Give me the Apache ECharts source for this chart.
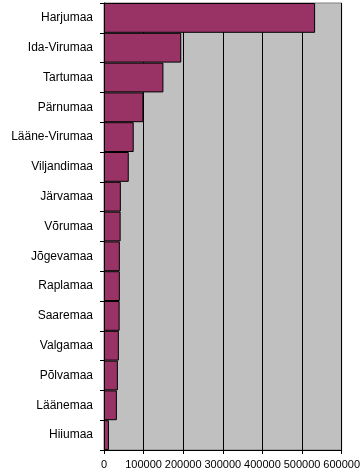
<!DOCTYPE html>
<html><head><meta charset="utf-8">
<script src="https://cdn.jsdelivr.net/npm/echarts@6/dist/echarts.min.js"></script>
<style>html,body{margin:0;padding:0;background:#fff}#c{width:363px;height:476px}</style>
</head><body><div id="c"></div>
<script>
const categories = ["Harjumaa","Ida-Virumaa","Tartumaa","Pärnumaa","Lääne-Virumaa","Viljandimaa","Järvamaa","Võrumaa","Jõgevamaa","Raplamaa","Saaremaa","Valgamaa","Põlvamaa","Läänemaa","Hiiumaa"];
const values = [533000,195000,150000,99500,75000,62500,42500,42000,40000,40000,39500,37500,35000,32500,12500];
const xTicks = [0,100000,200000,300000,400000,500000,600000];

const chart = echarts.init(document.getElementById('c'), null, {renderer:'canvas'});
chart.setOption({
  animation:false,
  textStyle:{fontFamily:'Liberation Sans, Arial, sans-serif'},
  grid:{left:104,right:20,top:3,bottom:26,show:true,backgroundColor:'#C0C0C0',borderColor:'#808080',borderWidth:1},
  xAxis:{type:'value',min:xTicks[0],max:xTicks[xTicks.length-1],interval:100000,
    axisLine:{show:true,lineStyle:{color:'#000',width:1}},
    axisTick:{show:true,length:4,lineStyle:{color:'#000'}},
    axisLabel:{color:'#000',fontSize:11,margin:9,hideOverlap:false,showMinLabel:true,showMaxLabel:true,
      formatter:function(v){return String(v);}},
    splitLine:{show:true,lineStyle:{color:'#000',width:1}}},
  yAxis:{type:'category',data:categories,inverse:true,
    axisLine:{show:true,lineStyle:{color:'#000',width:1}},
    axisTick:{show:true,length:4,lineStyle:{color:'#000'}},
    axisLabel:{color:'#000',fontSize:12,margin:11,interval:0},
    splitLine:{show:false}},
  series:[{type:'bar',data:values,barCategoryGap:'0%',
    itemStyle:{color:'#993366',borderColor:'#000',borderWidth:1}}]
});
</script></body></html>
